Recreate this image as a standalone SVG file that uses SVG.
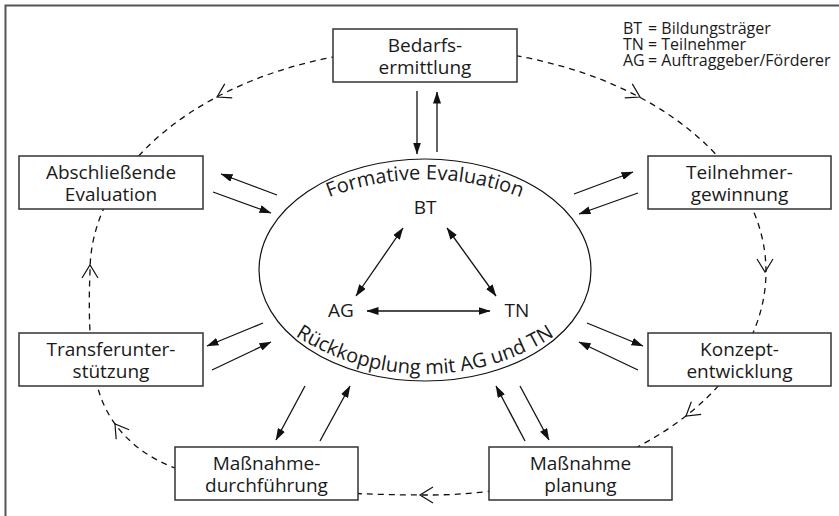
<svg xmlns="http://www.w3.org/2000/svg" width="839" height="516" viewBox="0 0 839 516">
  <style>
    .frame { fill: none; stroke: #555; stroke-width: 2; }
    .box { fill: #fff; stroke: #333; stroke-width: 1.5; }
    .lbl { font-family: "Open Sans", "Liberation Sans", sans-serif; font-size: 19px; fill: #1a1a1a; text-anchor: middle; }
    .legend { font-family: "Open Sans", "Liberation Sans", sans-serif; font-size: 16px; fill: #1a1a1a; }
    .arc { font-family: "Open Sans", "Liberation Sans", sans-serif; font-size: 20px; fill: #1a1a1a; text-anchor: middle; }
    .cycle { fill: none; stroke: #111; stroke-width: 1.3; stroke-dasharray: 6 5; }
    .open { fill: none; stroke: #111; stroke-width: 1.2; }
    .link { fill: none; stroke: #111; stroke-width: 1.3; marker-end: url(#ah); }
    .both { fill: none; stroke: #111; stroke-width: 1.3; marker-end: url(#ah); marker-start: url(#ah); }
    .core { fill: #fff; stroke: #111; stroke-width: 1.2; }
  </style>
  <defs>
    <marker id="ah" viewBox="0 0 12 8" refX="11.5" refY="4" markerWidth="12" markerHeight="8" orient="auto-start-reverse" markerUnits="userSpaceOnUse">
      <path d="M0,0 L12,4 L0,8 z" fill="#111"/>
    </marker>
    <polyline id="vhead" class="open" points="-13,-8 0,0 -13,8"/>
    <path id="arcTop" d="M 318,202 A 265,265 0 0 1 532,202"/>
    <path id="arcBottom" d="M 280,325 A 239,239 0 0 0 570,325"/>
  </defs>

  <rect width="839" height="516" fill="#fff"/>
  <path class="frame" d="M5.5,516 V5.5 H839"/>

  <!-- legend -->
  <g id="legend">
    <text class="legend">
      <tspan x="623" y="34">BT</tspan><tspan x="648" y="34">= Bildungsträger</tspan>
      <tspan x="623" y="50">TN</tspan><tspan x="648" y="50">= Teilnehmer</tspan>
      <tspan x="623" y="66">AG</tspan><tspan x="648" y="66">= Auftraggeber/Förderer</tspan>
    </text>
  </g>

  <!-- dashed process cycle with open arrowheads -->
  <g id="cycle">
    <path class="cycle" d="M 428,48 A 338,223.5 0 0 1 766,271.5 A 338,223.5 0 0 1 428,495 C 330,495 230,487 175,468 C 140,455 112,430 100,395 C 90,365 88,320 90,271.5 A 338,223.5 0 0 1 428,48"/>
    <use href="#vhead" transform="translate(217,97) rotate(152)"/>
    <use href="#vhead" transform="translate(640,97) rotate(28)"/>
    <use href="#vhead" transform="translate(765,272) rotate(90)"/>
    <use href="#vhead" transform="translate(686,416) rotate(142)"/>
    <use href="#vhead" transform="translate(420,495) rotate(180)"/>
    <use href="#vhead" transform="translate(115,424) rotate(234)"/>
    <use href="#vhead" transform="translate(90,265) rotate(270)"/>
  </g>

  <!-- central ellipse -->
  <g id="core">
    <ellipse class="core" cx="425" cy="270" rx="166" ry="111"/>
    <text class="arc"><textPath href="#arcTop" startOffset="50%">Formative Evaluation</textPath></text>
    <text class="arc"><textPath href="#arcBottom" startOffset="50%">Rückkopplung mit AG und TN</textPath></text>
    <text class="lbl" x="425" y="214">BT</text>
    <text class="lbl" x="341" y="317">AG</text>
    <text class="lbl" x="517" y="317">TN</text>
  </g>

  <!-- connectors -->
  <g id="connectors">
    <line class="both" x1="367" y1="311" x2="490" y2="311"/>
    <line class="both" x1="403" y1="228" x2="356" y2="296"/>
    <line class="both" x1="447" y1="228" x2="496" y2="296"/>

    <line class="link" x1="417" y1="91" x2="417" y2="154"/>
    <line class="link" x1="437" y1="152" x2="437" y2="92"/>

    <line class="link" x1="277" y1="195" x2="221" y2="174"/>
    <line class="link" x1="213" y1="192" x2="271" y2="213"/>

    <line class="link" x1="574" y1="194" x2="633" y2="172"/>
    <line class="link" x1="638" y1="193" x2="579" y2="214"/>

    <line class="link" x1="263" y1="323" x2="207" y2="346"/>
    <line class="link" x1="212" y1="370" x2="271" y2="342"/>

    <line class="link" x1="587" y1="323" x2="643" y2="346"/>
    <line class="link" x1="638" y1="370" x2="579" y2="342"/>

    <line class="link" x1="305" y1="386" x2="276" y2="440"/>
    <line class="link" x1="320" y1="441" x2="350" y2="386"/>

    <line class="link" x1="525" y1="441" x2="496" y2="386"/>
    <line class="link" x1="520" y1="386" x2="549" y2="440"/>
  </g>

  <!-- process steps -->
  <g id="bedarf">
    <rect class="box" x="333" y="29" width="184" height="53"/>
    <text class="lbl"><tspan x="425" y="52">Bedarfs-</tspan><tspan x="425" y="74">ermittlung</tspan></text>
  </g>
  <g id="teilnehmer">
    <rect class="box" x="648" y="156" width="183" height="53"/>
    <text class="lbl"><tspan x="739.5" y="179">Teilnehmer-</tspan><tspan x="739.5" y="201">gewinnung</tspan></text>
  </g>
  <g id="konzept">
    <rect class="box" x="648" y="333" width="183" height="53"/>
    <text class="lbl"><tspan x="739.5" y="356">Konzept-</tspan><tspan x="739.5" y="378">entwicklung</tspan></text>
  </g>
  <g id="planung">
    <rect class="box" x="489" y="447" width="183" height="53"/>
    <text class="lbl"><tspan x="580.5" y="470">Maßnahme</tspan><tspan x="580.5" y="492">planung</tspan></text>
  </g>
  <g id="durchfuehrung">
    <rect class="box" x="175" y="447" width="183" height="53"/>
    <text class="lbl"><tspan x="266.5" y="470">Maßnahme-</tspan><tspan x="266.5" y="492">durchführung</tspan></text>
  </g>
  <g id="transfer">
    <rect class="box" x="19" y="333" width="184" height="53"/>
    <text class="lbl"><tspan x="111" y="356">Transferunter-</tspan><tspan x="111" y="378">stützung</tspan></text>
  </g>
  <g id="abschluss">
    <rect class="box" x="19" y="156" width="184" height="53"/>
    <text class="lbl"><tspan x="111" y="179">Abschließende</tspan><tspan x="111" y="201">Evaluation</tspan></text>
  </g>
</svg>
